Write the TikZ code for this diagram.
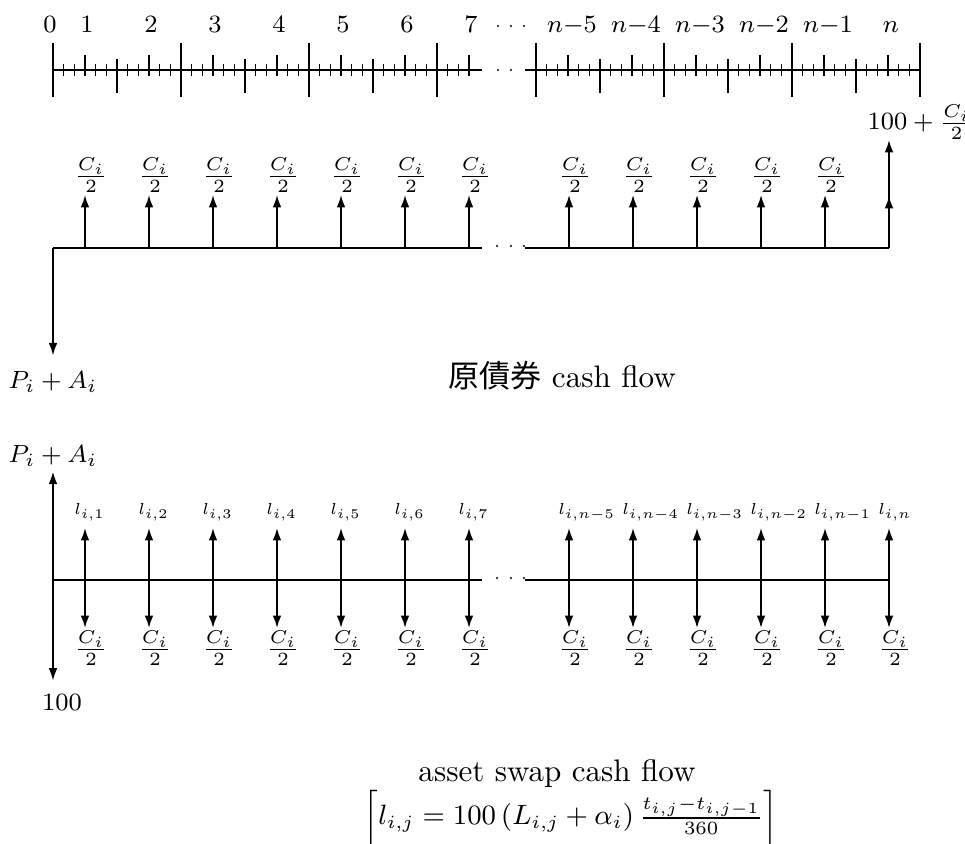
\documentclass[tikz,border=0pt]{standalone}
\usepackage{fontspec}
\newfontfamily\cjk{Noto Sans CJK TC}
\usetikzlibrary{arrows.meta}
\begin{document}
\begin{tikzpicture}[x=0.3215pt,y=-0.3215pt,
  hl/.style={line width=0.45pt},
  tk/.style={line width=0.5pt},
  arr/.style={line width=0.55pt,-{Latex[length=4pt,width=2.8pt]}},
  darr/.style={line width=0.55pt,{Latex[length=4pt,width=2.8pt]}-{Latex[length=4pt,width=2.8pt]}},
  axlab/.style={inner sep=0pt,anchor=base,font=\footnotesize},
  frlab/.style={inner sep=0pt,font=\footnotesize},
  llab/.style={inner sep=0pt,anchor=base west,font=\fontsize{6}{7}\selectfont},
  vlab/.style={inner sep=0pt,font=\footnotesize},
  ttl/.style={inner sep=0pt,anchor=base}]
\useasboundingbox (0,0) rectangle (965,844);

% ---------- time axis ----------
\draw[hl] (53,70) -- (482,70);
\draw[hl] (525,70) -- (921,70);
\foreach \k in {0,...,39}{
  \pgfmathsetmacro{\xx}{53+\k*64/6}
  \pgfmathtruncatemacro{\mA}{mod(\k,12)}
  \pgfmathtruncatemacro{\mB}{mod(\k,6)}
  \ifnum\mA=0 \draw[tk] (\xx,43) -- (\xx,97);
  \else\ifnum\mA=6 \draw[tk] (\xx,59) -- (\xx,93);
  \else\ifnum\mB=3 \draw[tk] (\xx,55) -- (\xx,76);
  \else \draw[tk] (\xx,64) -- (\xx,76);
  \fi\fi\fi
}
\foreach \k in {0,...,36}{
  \pgfmathsetmacro{\xx}{536+\k*64/6}
  \pgfmathtruncatemacro{\mA}{mod(\k,12)}
  \pgfmathtruncatemacro{\mB}{mod(\k,6)}
  \ifnum\mA=0 \draw[tk] (\xx,43) -- (\xx,97);
  \else\ifnum\mA=6 \draw[tk] (\xx,59) -- (\xx,93);
  \else\ifnum\mB=3 \draw[tk] (\xx,55) -- (\xx,76);
  \else \draw[tk] (\xx,64) -- (\xx,76);
  \fi\fi\fi
}
\fill (498,70) circle (1.1);
\fill (511,70) circle (1.1);

\node[axlab] (t0) at (50,33) {0};
\foreach \n/\x in {1/87,2/151,3/215,4/279,5/343,6/407,7/471}
  \node[axlab] (t\n) at (\x,33) {\n};
\fill (498,26) circle (1.1);
\fill (511,26) circle (1.1);
\fill (524,26) circle (1.1);
\node[axlab] (tn5) at (572,33) {$n{-}5$};
\node[axlab] (tn4) at (636,33) {$n{-}4$};
\node[axlab] (tn3) at (700,33) {$n{-}3$};
\node[axlab] (tn2) at (764,33) {$n{-}2$};
\node[axlab] (tn1) at (828,33) {$n{-}1$};
\node[axlab] (tn0) at (891,33) {$n$};

% ---------- bond cash flow ----------
\coordinate (a0) at (53,248);
\draw[hl] (a0) -- (482,248);
\draw[hl] (525,248) -- (889,248);
\fill (497,246) circle (1.1);
\fill (511,246) circle (1.1);
\fill (524,246) circle (1.1);
\foreach \i/\x in {1/85,2/149,3/213,4/277,5/341,6/405,7/469,8/569,9/633,10/697,11/761,12/825}{
  \coordinate (a\i) at (\x,248);
  \node[frlab,anchor=south] (c\i) at (\x+6,193) {$\frac{C_i}{2}$};
  \draw[arr] (a\i) -- (\x,195);
}
\coordinate (a13) at (889,248);
\coordinate (a13m) at (889,196);
\node[vlab,anchor=south west] (big) at (867,140) {$100+\frac{C_i}{2}$};
\draw[arr] (a13) -- (a13m);
\draw[arr] (a13) -- (a13 |- big.south);
\node[vlab,anchor=north] (pa1) at (53,371) {$P_i+A_i$};
\draw[arr,shorten >=5pt] (a0) -- (pa1.north);

\node[ttl] (title1) at (562,388) {{\cjk 原債券} cash flow};

% ---------- asset swap cash flow ----------
\coordinate (s0) at (53,580);
\draw[hl] (s0) -- (482,580);
\draw[hl] (525,580) -- (889,580);
\fill (497,578) circle (1.1);
\fill (511,578) circle (1.1);
\fill (524,578) circle (1.1);
\foreach \i/\x/\lab in {1/85/1,2/149/2,3/213/3,4/277/4,5/341/5,6/405/6,7/469/7,8/569/n-5,9/633/n-4,10/697/n-3,11/761/n-2,12/825/n-1,13/889/n}{
  \coordinate (u\i) at (\x,528);
  \coordinate (d\i) at (\x,628);
  \node[llab] (l\i) at (\x-11,515) {\scalebox{0.86}{$l_{i,\lab}$}};
  \node[frlab,anchor=north] (e\i) at (\x+6,630) {$\frac{C_i}{2}$};
  \draw[darr] (u\i) -- (d\i);
}
\node[vlab,anchor=south] (pa2) at (53,467) {$P_i+A_i$};
\node[vlab,anchor=north] (h100) at (62,693) {100};
\draw[arr,shorten >=1.5pt] (s0) -- (pa2.south);
\draw[arr,shorten >=4pt] (s0) -- (s0 |- h100.north);

\node[ttl] (title2) at (557,782) {asset swap cash flow};
\node[ttl,font=\fontsize{9.2}{11}\selectfont] (formula) at (571,825) {$\Big[l_{i,j}=100\,(L_{i,j}+\alpha_i)\,\frac{t_{i,j}-t_{i,j-1}}{360}\Big]$};
\end{tikzpicture}
\end{document}
